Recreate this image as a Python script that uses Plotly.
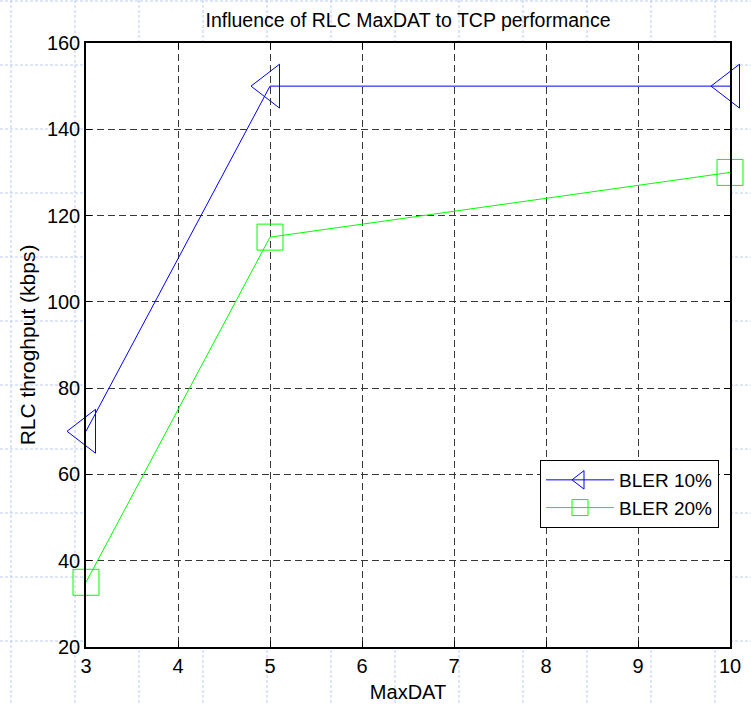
import plotly.graph_objects as go

# Data
maxdat = [3, 5, 10]
bler10 = [70, 150, 150]
bler20 = [35, 115, 130]
series_names = ["BLER 10%", "BLER 20%"]
title_text = "Influence of RLC MaxDAT to TCP performance"
x_title = "MaxDAT"
y_title = "RLC throghput (kbps)"

W, H = 751, 704
L, R, T, B = 86, 730, 43, 647  # plot area in pixels

fig = go.Figure()
fig.add_trace(go.Scatter(
    x=maxdat, y=bler10, name=series_names[0], mode="lines+markers",
    line=dict(color="#0000ff", width=1),
    marker=dict(symbol="triangle-left-open", size=38, color="#0000ff",
                line=dict(color="#0000ff", width=1)),
    cliponaxis=False,
))
fig.add_trace(go.Scatter(
    x=maxdat, y=bler20, name=series_names[1], mode="lines+markers",
    line=dict(color="#00ff00", width=1),
    marker=dict(symbol="square-open", size=26, color="#00ff00",
                line=dict(color="#00ff00", width=1)),
    cliponaxis=False,
))

# decorative background (paper-like faint dashed grid outside axes)
def px2x(px):
    return (px - L) / (R - L)

def px2y(py):
    return (B - py) / (B - T)

shapes = []
bg = dict(color="#bccdf2", width=1, dash="3px,2px")
for k in range(12):
    xp = 11 + 64 * k
    shapes.append(dict(type="line", xref="paper", yref="paper", layer="below",
                       x0=px2x(xp), x1=px2x(xp), y0=px2y(0), y1=px2y(H), line=bg))
for k in range(11):
    yp = 1 + 64 * k
    shapes.append(dict(type="line", xref="paper", yref="paper", layer="below",
                       x0=px2x(0), x1=px2x(W), y0=px2y(yp), y1=px2y(yp), line=bg))
shapes.append(dict(type="rect", xref="paper", yref="paper", layer="below",
                   x0=0, x1=1, y0=0, y1=1, fillcolor="white", line=dict(width=0)))

font_family = "Liberation Sans, Arial, sans-serif"
axis_common = dict(
    showline=True, linecolor="black", linewidth=1.5, mirror="ticks",
    ticks="inside", ticklen=6, tickcolor="black", tickwidth=1,
    showgrid=True, gridcolor="#383838", gridwidth=1, griddash="7px,4px",
    zeroline=False, automargin=False,
    tickfont=dict(family=font_family, size=20, color="black"),
)

fig.update_layout(
    width=W, height=H,
    margin=dict(l=L, r=W - R, t=T, b=H - B),
    paper_bgcolor="white", plot_bgcolor="white",
    title=dict(text=title_text, x=(L + R) / 2 / W, xanchor="center",
               y=1 - 20 / H, yanchor="middle",
               font=dict(family=font_family, size=19.5, color="black")),
    xaxis=dict(range=[3, 10], dtick=1, tick0=3,
               title=dict(text=x_title, standoff=9,
                          font=dict(family=font_family, size=20, color="black")),
               **axis_common),
    yaxis=dict(range=[20, 160], dtick=20, tick0=20,
               title=dict(text=y_title, standoff=6,
                          font=dict(family=font_family, size=21, color="black")),
               **axis_common),
    legend=dict(x=px2x(540), y=px2y(460), xanchor="left", yanchor="top",
                bgcolor="white", bordercolor="black", borderwidth=1,
                font=dict(family=font_family, size=19, color="black"),
                itemwidth=68),
    shapes=shapes,
    showlegend=True,
)

fig.write_html("out.html", config={"displayModeBar": False},
               post_script="document.body.style.margin='0';document.body.style.padding='0';")
